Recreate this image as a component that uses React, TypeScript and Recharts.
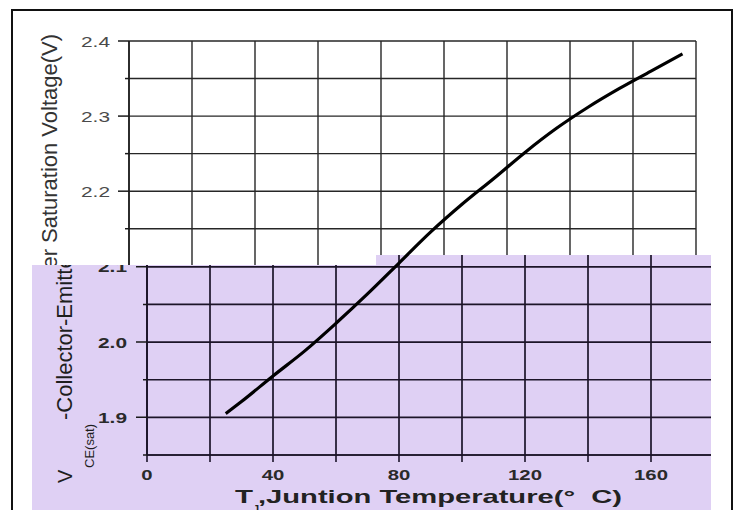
import React from 'react';
import { LineChart, Line, XAxis, YAxis, CartesianGrid } from 'recharts';

// Junction temperature (°C) and collector-emitter saturation voltage (V)
const temperature = [25, 30, 40, 50, 60, 70, 80, 90, 100, 110, 120, 130, 140, 150, 160, 170];
const vceSat = [1.905, 1.921, 1.955, 1.988, 2.025, 2.064, 2.105, 2.146, 2.183, 2.217, 2.252, 2.284, 2.312, 2.337, 2.36, 2.383];

const xTicks = [0, 20, 40, 60, 80, 100, 120, 140, 160, 180];
const xLabelTicks = [0, 40, 80, 120, 160];
const yTicks = [1.85, 1.9, 1.95, 2.0, 2.05, 2.1, 2.15, 2.2, 2.25, 2.3, 2.35, 2.4];
const xDomain = [0, 180];
const yDomain = [1.85, 2.4];

const yTitleMain = 'V';
const yTitleSub = 'CE(sat)';
const yTitleRest = '-Collector-Emitter Saturation Voltage(V)';
const xTitleMain = 'T';
const xTitleSub = 'J';
const xTitleRest = ',Juntion Temperature(°\u00a0\u00a0C)';

const data = temperature.map((t, i) => ({ t, v: vceSat[i] }));

const W = 739;
const H = 510;
const FONT = '"Liberation Sans", Arial, sans-serif';
const PURPLE = '#dfd0f4';

const isMajor = (v: number) => Math.abs(v * 10 - Math.round(v * 10)) < 1e-6;

const makeYTick = (
  axisX: number, labelRight: number, color: string, bold: boolean, fontSize: number,
  showLabel: (v: number) => boolean,
) => (props: any) => {
  const { y, payload } = props;
  const v = payload.value as number;
  const major = isMajor(v);
  const len = major ? 11 : 4;
  return (
    <g>
      <line x1={axisX - len} x2={axisX} y1={y} y2={y} stroke="#1a1a1a" strokeWidth={1.5} />
      {major && showLabel(v) && (
        <text
          x={labelRight}
          y={y + 5.5}
          textAnchor="end"
          fontFamily={FONT}
          fontSize={fontSize}
          fontWeight={bold ? 'bold' : 'normal'}
          fill={color}
          textLength={29}
          lengthAdjust="spacingAndGlyphs"
        >
          {v.toFixed(1)}
        </text>
      )}
    </g>
  );
};

const makeXTick = (axisY: number) => (props: any) => {
  const { x, payload } = props;
  const v = payload.value as number;
  const label = xLabelTicks.includes(v);
  const s = String(v);
  return (
    <g>
      <line x1={x} x2={x} y1={axisY} y2={axisY + 7} stroke="#1a1228" strokeWidth={1.6} />
      {label && (
        <text
          x={x}
          y={axisY + 25}
          textAnchor="middle"
          fontFamily={FONT}
          fontSize={14.5}
          fontWeight="bold"
          fill="#2a2a2a"
          textLength={s.length * 11.3}
          lengthAdjust="spacingAndGlyphs"
        >
          {s}
        </text>
      )}
    </g>
  );
};

const emptyTick = () => <g />;

const YTitle = (props: any) => {
  const { bx, color } = props;
  return (
    <g transform={`translate(${bx},483) rotate(-90)`} fontFamily={FONT} fill={color}>
      <text x={0} y={0} fontSize={20}>{yTitleMain}</text>
      <text x={15} y={22} fontSize={13}>{yTitleSub}</text>
      <text x={63} y={0} fontSize={22} textLength={386} lengthAdjust="spacingAndGlyphs">
        {yTitleRest}
      </text>
    </g>
  );
};

const XTitle = () => (
  <g fontFamily={FONT} fontWeight="bold" fill="#222">
    <text x={235} y={503} fontSize={18.5} textLength={18} lengthAdjust="spacingAndGlyphs">{xTitleMain}</text>
    <text x={253} y={513} fontSize={11}>{xTitleSub}</text>
    <text x={258} y={503} fontSize={18.5} textLength={364} lengthAdjust="spacingAndGlyphs">{xTitleRest}</text>
  </g>
);

export default function App() {
  return (
    <div style={{ position: 'absolute', left: 0, top: 0, width: W, height: H, background: '#fff', overflow: 'hidden' }}>
      {/* outer frame */}
      <div
        style={{
          position: 'absolute', left: 11, top: 9, width: 722, height: 530,
          border: '2px solid #111', boxSizing: 'border-box',
        }}
      />
      {/* upper (white) chart */}
      <div style={{ position: 'absolute', left: 0, top: 0 }}>
        <LineChart width={W} height={H} data={data} margin={{ top: 41, right: 43, bottom: 26, left: 0 }}>
          <CartesianGrid stroke="#262626" strokeWidth={1.4} />
          <XAxis dataKey="t" type="number" domain={xDomain} ticks={xTicks} height={30} interval={0}
            tick={emptyTick} axisLine={false} tickLine={false} />
          <YAxis
            dataKey="v" type="number" domain={yDomain} ticks={yTicks} width={129} interval={0}
            axisLine={{ stroke: '#1a1a1a', strokeWidth: 1.5 }} tickLine={false}
            tick={makeYTick(129, 110, '#4a4a4a', false, 15, (v) => v > 2.15)}
            label={<YTitle bx={57} color="#333" />}
          />
        </LineChart>
      </div>
      {/* lower (purple) chart, clipped */}
      <div
        style={{
          position: 'absolute', left: 32, top: 255, width: 679, height: 255, overflow: 'hidden',
          background: PURPLE,
          clipPath: 'polygon(0 10px, 344px 10px, 344px 0, 100% 0, 100% 100%, 0 100%)',
        }}
      >
        <div style={{ position: 'absolute', left: -32, top: -255 }}>
          <LineChart width={W} height={H} data={data} margin={{ top: 41, right: 25, bottom: 25, left: 0 }}>
            <CartesianGrid stroke="#1c1428" strokeWidth={1.7} />
            <XAxis
              dataKey="t" type="number" domain={xDomain} ticks={xTicks} height={30} interval={0}
              axisLine={{ stroke: '#1c1428', strokeWidth: 1.7 }} tickLine={false}
              tick={makeXTick(455)}
              label={<XTitle />}
            />
            <YAxis
              dataKey="v" type="number" domain={yDomain} ticks={yTicks} width={147} interval={0}
              axisLine={{ stroke: '#1c1428', strokeWidth: 1.7 }} tickLine={false}
              tick={makeYTick(147, 127, '#2a2a2a', true, 14.5, (v) => v < 2.15)}
              label={<YTitle bx={72} color="#1e1e1e" />}
            />
          </LineChart>
        </div>
      </div>
      {/* curve overlay */}
      <div style={{ position: 'absolute', left: 0, top: 0 }}>
        <LineChart width={W} height={H} data={data} margin={{ top: 41, right: 25, bottom: 55, left: 147 }}>
          <XAxis dataKey="t" type="number" domain={xDomain} hide />
          <YAxis dataKey="v" type="number" domain={yDomain} hide />
          <Line type="monotone" dataKey="v" stroke="#000" strokeWidth={3.2} dot={false} isAnimationActive={false} />
        </LineChart>
      </div>
    </div>
  );
}
